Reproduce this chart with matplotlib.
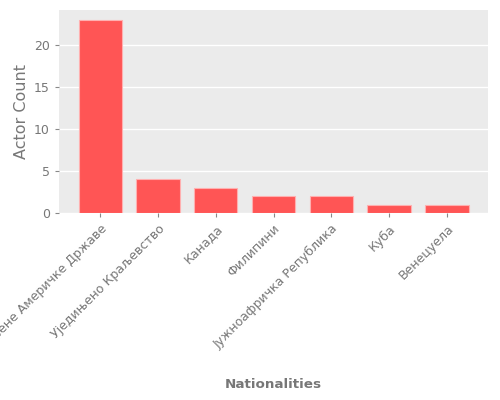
import matplotlib
matplotlib.use("Agg")
import matplotlib.pyplot as plt

nationalities = ["Сједињене Америчке Државе", "Уједињено Краљевство", "Канада",
                 "Филипини", "Јужноафричка Република", "Куба", "Венецуела"]
actor_counts = [23, 4, 3, 2, 2, 1, 1]

plt.rcParams['font.family'] = ['DejaVu Sans']

fig, ax = plt.subplots(figsize=(5, 4), dpi=100)
fig.subplots_adjust(left=0.118, right=0.976, top=0.975, bottom=0.4675)

ax.set_facecolor('#EBEBEB')
ax.grid(axis='y', color='white', linewidth=1)
ax.set_axisbelow(True)
for s in ax.spines.values():
    s.set_visible(False)

x = range(len(nationalities))
ax.bar(x, actor_counts, width=0.75, color='#FF5555', edgecolor='#FFB0B0', linewidth=0.8)

ax.set_xticks(list(x))
ax.set_xticklabels(nationalities, rotation=45, ha='right', rotation_mode='anchor')
ax.tick_params(colors='#888888', labelsize=9, labelcolor='#777777', length=3)
ax.set_yticks([0, 5, 10, 15, 20])

ax.set_xlabel('Nationalities', fontsize=9.7, fontweight='bold', color='#777777', va='center')
ax.xaxis.set_label_coords(0.5, -0.847)
ax.set_ylabel('Actor Count', fontsize=11.5, color='#777777')

fig.savefig('out.png', dpi=100)
